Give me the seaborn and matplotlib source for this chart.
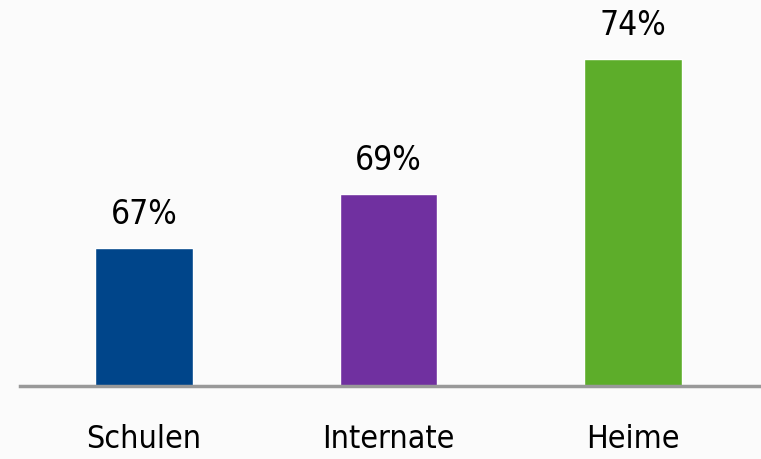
import matplotlib
matplotlib.use("Agg")
import matplotlib.pyplot as plt
import seaborn as sns
import pandas as pd

# Daten
kategorien = ["Schulen", "Internate", "Heime"]
werte = [67, 69, 74]
farben = ["#00458a", "#7030a0", "#5dad2a"]

df = pd.DataFrame({"kategorie": kategorien, "wert": werte})

sns.set_style("white")
plt.rcParams["font.family"] = ["DejaVu Sans"]
plt.rcParams["font.stretch"] = "condensed"
plt.rcParams["text.color"] = "black"
plt.rcParams["xtick.color"] = "black"

fig = plt.figure(figsize=(7.61, 4.6), dpi=100)
fig.patch.set_facecolor("#fbfbfb")
ax = fig.add_axes([20 / 761, 1 - 387 / 460, 1 - 20 / 761, 387 / 460])
ax.set_facecolor("#fbfbfb")

sns.barplot(data=df, x="kategorie", y="wert", hue="kategorie", palette=farben,
            width=0.4, legend=False, ax=ax, saturation=1)

ax.set_xlim(-0.507, 2.523)
ax.set_ylim(61.9, 76.23)

for i, v in enumerate(werte):
    ax.annotate(f"{v}%", (i, v), xytext=(0, 13), textcoords="offset points",
                ha="center", va="bottom", fontsize=24, color="black")

ax.set_xlabel("")
ax.set_ylabel("")
ax.set_yticks([])
ax.tick_params(axis="x", length=0, pad=27, labelsize=23, labelcolor="black")
for s in ["top", "right", "left"]:
    ax.spines[s].set_visible(False)
ax.spines["bottom"].set_color("#999999")
ax.spines["bottom"].set_linewidth(2.5)

fig.savefig("out.png", dpi=100, facecolor=fig.get_facecolor())
